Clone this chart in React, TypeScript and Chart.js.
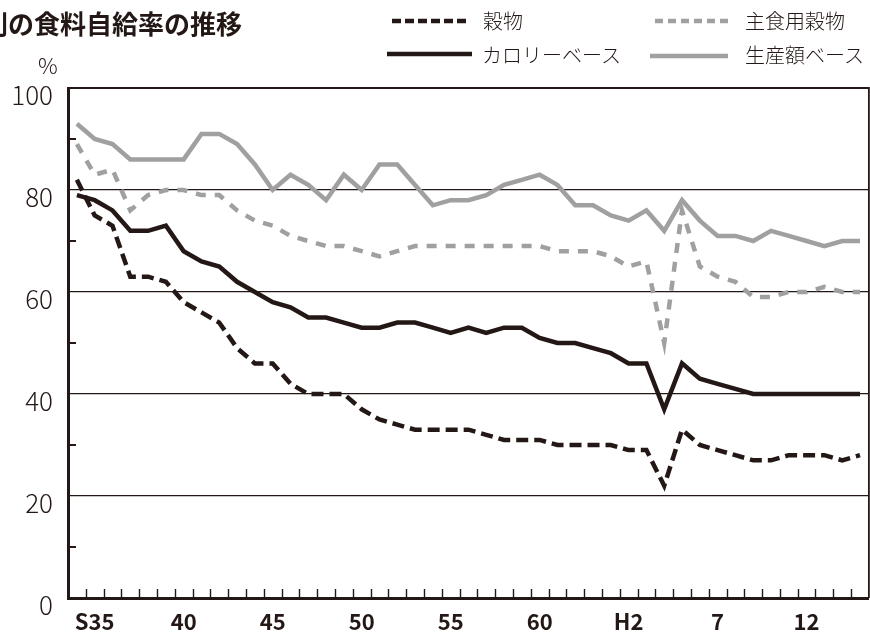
import React, { useEffect, useRef } from "react";
import { Chart, registerables } from "chart.js";

Chart.register(...registerables);

const INK = "#231815";
const GRAY = "#a0a0a0";
const FONT = "'Noto Sans CJK JP', 'Noto Sans', sans-serif";

// Fiscal years 1960 (S35) .. 2004 (H16)
const years = [
  1960, 1961, 1962, 1963, 1964, 1965, 1966, 1967, 1968, 1969,
  1970, 1971, 1972, 1973, 1974, 1975, 1976, 1977, 1978, 1979,
  1980, 1981, 1982, 1983, 1984, 1985, 1986, 1987, 1988, 1989,
  1990, 1991, 1992, 1993, 1994, 1995, 1996, 1997, 1998, 1999,
  2000, 2001, 2002, 2003, 2004,
];

// 穀物
const grain = [
  82, 75, 73, 63, 63, 62, 58, 56, 54, 49,
  46, 46, 42, 40, 40, 40, 37, 35, 34, 33,
  33, 33, 33, 32, 31, 31, 31, 30, 30, 30,
  30, 29, 29, 22, 33, 30, 29, 28, 27, 27,
  28, 28, 28, 27, 28,
];

// 主食用穀物
const stapleGrain = [
  89, 83, 84, 76, 79, 80, 80, 79, 79, 76,
  74, 73, 71, 70, 69, 69, 68, 67, 68, 69,
  69, 69, 69, 69, 69, 69, 69, 68, 68, 68,
  67, 65, 66, 50, 76, 65, 63, 62, 59, 59,
  60, 60, 61, 60, 60,
];

// カロリーベース
const calorieBase = [
  79, 78, 76, 72, 72, 73, 68, 66, 65, 62,
  60, 58, 57, 55, 55, 54, 53, 53, 54, 54,
  53, 52, 53, 52, 53, 53, 51, 50, 50, 49,
  48, 46, 46, 37, 46, 43, 42, 41, 40, 40,
  40, 40, 40, 40, 40,
];

// 生産額ベース
const productionBase = [
  93, 90, 89, 86, 86, 86, 86, 91, 91, 89,
  85, 80, 83, 81, 78, 83, 80, 85, 85, 81,
  77, 78, 78, 79, 81, 82, 83, 81, 77, 77,
  75, 74, 76, 72, 78, 74, 71, 71, 70, 72,
  71, 70, 69, 70, 70,
];

const xTickLabels = ["S35", "40", "45", "50", "55", "60", "H2", "7", "12"];
const xTickIndices = [1, 6, 11, 16, 21, 26, 31, 36, 41];
const yMinorTicks = [10, 30, 50, 70, 90];

const framePlugin = {
  id: "frame",
  afterDraw(chart: any) {
    const { ctx, chartArea: a, scales } = chart;
    const x = scales.x;
    const y = scales.y;
    ctx.save();
    ctx.strokeStyle = INK;
    ctx.lineCap = "butt";
    // top & right frame
    ctx.lineWidth = 1.8;
    ctx.beginPath();
    ctx.moveTo(a.left, a.top);
    ctx.lineTo(a.right, a.top);
    ctx.lineTo(a.right, a.bottom);
    ctx.stroke();
    // inner x ticks at category boundaries
    ctx.lineWidth = 1.4;
    ctx.beginPath();
    for (let i = 0; i < years.length - 1; i++) {
      const px = Math.round((x.getPixelForValue(i) + x.getPixelForValue(i + 1)) / 2) + 0.5;
      ctx.moveTo(px, a.bottom);
      ctx.lineTo(px, a.bottom - 9);
    }
    ctx.stroke();
    // inner y minor ticks
    ctx.lineWidth = 2;
    ctx.beginPath();
    for (const v of yMinorTicks) {
      const py = y.getPixelForValue(v);
      ctx.moveTo(a.left, py);
      ctx.lineTo(a.left + 8, py);
    }
    ctx.stroke();
    ctx.restore();
  },
};

function ChartCanvas() {
  const ref = useRef<HTMLCanvasElement | null>(null);
  useEffect(() => {
    if (!ref.current) return;
    const chart = new Chart(ref.current, {
      type: "line",
      data: {
        labels: years.map(String),
        datasets: [
          {
            label: "生産額ベース",
            data: productionBase,
            borderColor: GRAY,
            borderWidth: 4.5,
            pointRadius: 0,
            tension: 0,
            borderJoinStyle: "miter",
          },
          {
            label: "主食用穀物",
            data: stapleGrain,
            borderColor: GRAY,
            borderWidth: 4.5,
            borderDash: [10, 9],
            pointRadius: 0,
            tension: 0,
            borderJoinStyle: "miter",
          },
          {
            label: "カロリーベース",
            data: calorieBase,
            borderColor: INK,
            borderWidth: 4.5,
            pointRadius: 0,
            tension: 0,
            borderJoinStyle: "miter",
          },
          {
            label: "穀物",
            data: grain,
            borderColor: INK,
            borderWidth: 4.5,
            borderDash: [12, 6],
            pointRadius: 0,
            tension: 0,
            borderJoinStyle: "miter",
          },
        ],
      },
      options: {
        responsive: false,
        animation: false,
        devicePixelRatio: 1,
        layout: { padding: { top: 88, right: 1, left: 0, bottom: 0 } },
        plugins: {
          legend: { display: false },
          title: { display: false },
          tooltip: { enabled: false },
        },
        scales: {
          x: {
            type: "category",
            offset: true,
            grid: { display: false, drawTicks: false, offset: true },
            border: { display: true, width: 3, color: INK },
            afterFit: (s: any) => {
              s.height = 34;
            },
            ticks: {
              autoSkip: false,
              maxRotation: 0,
              minRotation: 0,
              padding: 10,
              color: INK,
              font: { family: FONT, size: 22, weight: "bold" },
              callback: (_v: any, i: number) => {
                const k = xTickIndices.indexOf(i);
                return k >= 0 ? xTickLabels[k] : "";
              },
            },
          },
          y: {
            min: 0,
            max: 100,
            afterFit: (s: any) => {
              s.width = 68;
            },
            grid: { color: INK, lineWidth: 1.2, drawTicks: false },
            border: { display: true, width: 3, color: INK },
            ticks: {
              stepSize: 20,
              padding: 15,
              labelOffset: 7,
              color: INK,
              font: { family: FONT, size: 26, weight: "300" },
            },
          },
        },
      },
      plugins: [framePlugin],
    });
    return () => chart.destroy();
  }, []);
  return <canvas ref={ref} width={870} height={632} style={{ position: "absolute", left: 0, top: 0 }} />;
}

function LegendLine({ color, dash, width }: { color: string; dash?: string; width: number }) {
  return (
    <svg width={width} height={10} style={{ display: "block" }}>
      <line x1={0} y1={5} x2={width} y2={5} stroke={color} strokeWidth={4.5} strokeDasharray={dash} />
    </svg>
  );
}

export default function App() {
  const textStyle: React.CSSProperties = {
    position: "absolute",
    fontFamily: FONT,
    fontSize: 20,
    color: INK,
    whiteSpace: "nowrap",
    lineHeight: "24px",
    fontWeight: 300,
  };
  return (
    <div
      style={{
        position: "fixed",
        left: 0,
        top: 0,
        width: 870,
        height: 632,
        overflow: "hidden",
        background: "#fff",
      }}
    >
      <ChartCanvas />
      <div
        style={{
          position: "absolute",
          left: -18,
          top: 8,
          fontFamily: FONT,
          fontSize: 26,
          fontWeight: "bold",
          color: INK,
          whiteSpace: "nowrap",
          lineHeight: "30px",
        }}
      >
        別の食料自給率の推移
      </div>
      <div style={{ ...textStyle, left: 38, top: 52, fontSize: 22 }}>%</div>

      <div style={{ position: "absolute", left: 392, top: 16 }}>
        <LegendLine color={INK} dash="9 4" width={74} />
      </div>
      <div style={{ ...textStyle, left: 483, top: 9 }}>穀物</div>
      <div style={{ position: "absolute", left: 655, top: 16 }}>
        <LegendLine color={GRAY} dash="8 5" width={74} />
      </div>
      <div style={{ ...textStyle, left: 745, top: 9 }}>主食用穀物</div>

      <div style={{ position: "absolute", left: 387, top: 49 }}>
        <LegendLine color={INK} width={85} />
      </div>
      <div style={{ ...textStyle, left: 482, top: 43 }}>カロリーベース</div>
      <div style={{ position: "absolute", left: 650, top: 51 }}>
        <LegendLine color={GRAY} width={78} />
      </div>
      <div style={{ ...textStyle, left: 745, top: 43 }}>生産額ベース</div>
    </div>
  );
}
